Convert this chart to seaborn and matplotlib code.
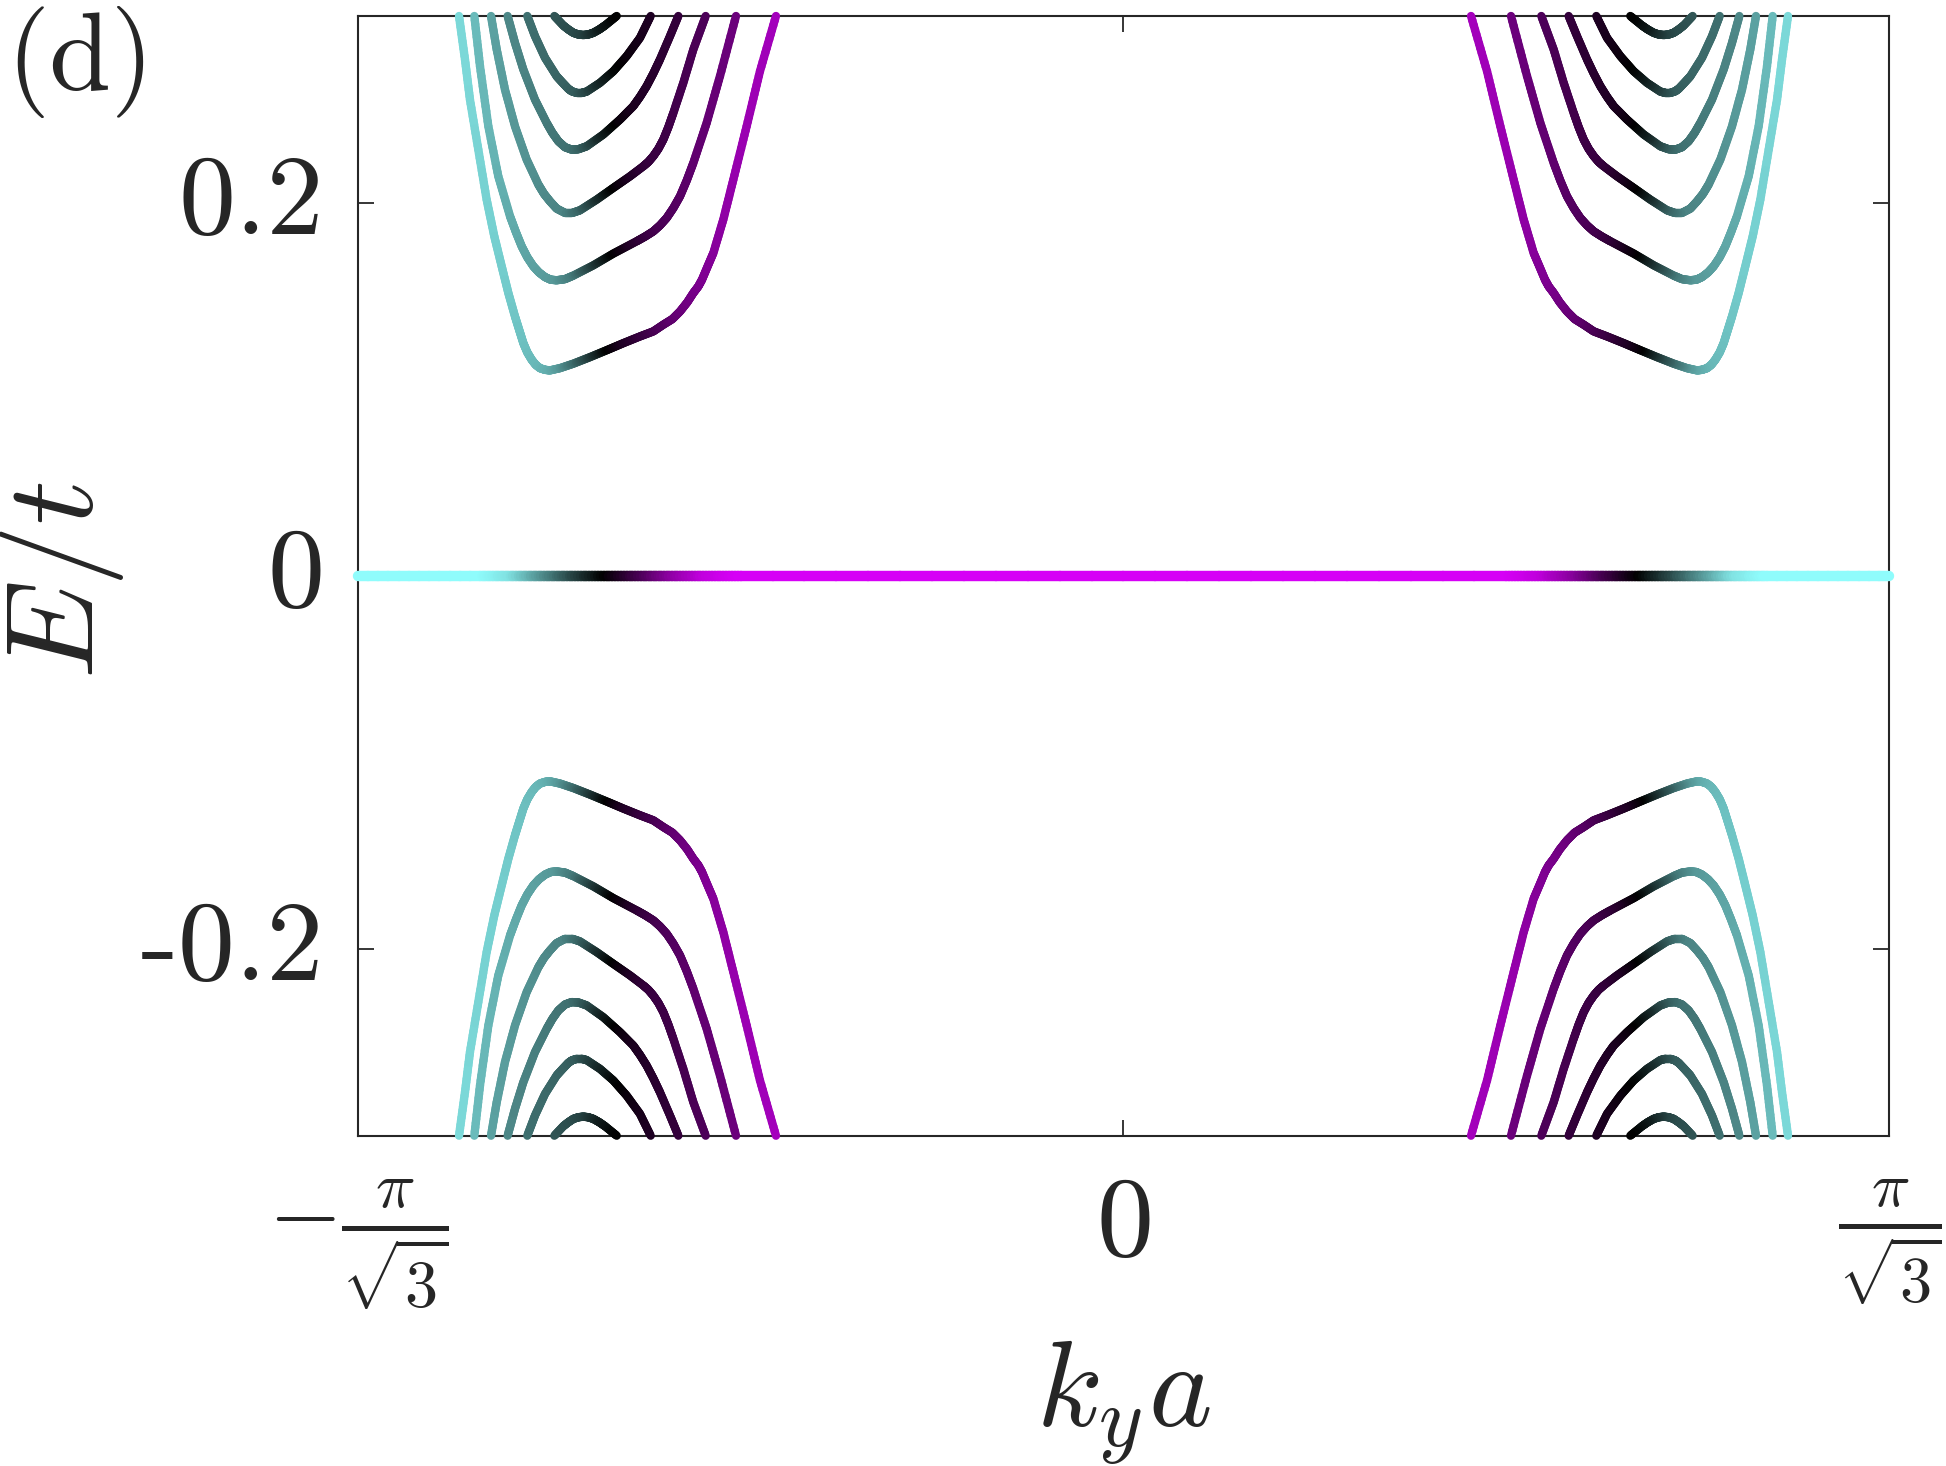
import numpy as np
import matplotlib
matplotlib.use("Agg")
import matplotlib.pyplot as plt
from matplotlib.collections import LineCollection
from matplotlib.transforms import ScaledTranslation
import seaborn as sns

K = np.pi / np.sqrt(3)

# Upper-left bands (k in units of pi/sqrt(3), E in units of t, colour weight 0=cyan ... 1=magenta)
b1_k = [-0.8677, -0.8599, -0.8534, -0.8425, -0.8316, -0.8216, -0.8120, -0.8033, -0.7946, -0.7889,
        -0.7837, -0.7785, -0.7728, -0.7676, -0.7620, -0.7554, -0.7489, -0.7358, -0.7184, -0.6967,
        -0.6732, -0.6531, -0.6314, -0.6140, -0.6009, -0.5891, -0.5791, -0.5696, -0.5617, -0.5552,
        -0.5504, -0.5430, -0.5356, -0.5226, -0.5095, -0.4921, -0.4747, -0.4538]
b1_E = [0.300, 0.2767, 0.2552, 0.2284, 0.2016, 0.1819, 0.1659, 0.1516, 0.1390, 0.1315,
        0.1247, 0.1197, 0.1158, 0.1131, 0.1113, 0.1104, 0.1101, 0.1113, 0.1137, 0.1172,
        0.1212, 0.1247, 0.1283, 0.1310, 0.1346, 0.1376, 0.1417, 0.1466, 0.1516, 0.1551,
        0.1587, 0.1659, 0.1730, 0.1909, 0.2123, 0.2409, 0.2704, 0.300]
b1_w = [0.07, 0.072, 0.075, 0.08, 0.085, 0.09, 0.095, 0.10, 0.11, 0.115,
        0.12, 0.125, 0.13, 0.135, 0.14, 0.15, 0.16, 0.20, 0.28, 0.38,
        0.50, 0.57, 0.62, 0.66, 0.69, 0.72, 0.74, 0.76, 0.77, 0.78,
        0.79, 0.80, 0.81, 0.83, 0.845, 0.86, 0.87, 0.88]

b2_k = [-0.8477, -0.8403, -0.8294, -0.8164, -0.8011, -0.7933, -0.7859, -0.7785, -0.7707, -0.7633,
        -0.7554, -0.7480, -0.7402, -0.7293, -0.7184, -0.6923, -0.6662, -0.6357, -0.6248, -0.6140,
        -0.6053, -0.5965, -0.5878, -0.5791, -0.5704, -0.5617, -0.5443, -0.5269, -0.5060]
b2_E = [0.300, 0.2731, 0.2409, 0.2141, 0.1927, 0.1841, 0.1766, 0.1707, 0.1659, 0.1626,
        0.1601, 0.1587, 0.1584, 0.1590, 0.1609, 0.1664, 0.1727, 0.1793, 0.1818, 0.1846,
        0.1878, 0.1918, 0.1971, 0.2034, 0.2118, 0.2213, 0.2427, 0.2678, 0.300]
b2_w = [0.13, 0.135, 0.14, 0.15, 0.16, 0.165, 0.17, 0.175, 0.18, 0.185,
        0.19, 0.195, 0.20, 0.23, 0.26, 0.38, 0.50, 0.60, 0.625, 0.65,
        0.665, 0.68, 0.69, 0.70, 0.71, 0.72, 0.73, 0.74, 0.75]

b3_k = [-0.8259, -0.8185, -0.8077, -0.7946, -0.7794, -0.7641, -0.7567, -0.7489, -0.7402, -0.7293,
        -0.7197, -0.7097, -0.6880, -0.6662, -0.6444, -0.6270, -0.6205, -0.6140, -0.6074, -0.6009,
        -0.5944, -0.5878, -0.5748, -0.5617, -0.5456]
b3_E = [0.300, 0.2821, 0.2606, 0.2409, 0.2231, 0.2097, 0.2047, 0.2007, 0.1968, 0.1945,
        0.1945, 0.1959, 0.2016, 0.2079, 0.2141, 0.2195, 0.2218, 0.2249, 0.2288, 0.2338,
        0.2404, 0.2481, 0.2642, 0.2821, 0.300]
b3_w = [0.18, 0.185, 0.19, 0.20, 0.21, 0.22, 0.225, 0.23, 0.235, 0.24,
        0.27, 0.30, 0.40, 0.50, 0.57, 0.61, 0.62, 0.63, 0.635, 0.64,
        0.645, 0.65, 0.66, 0.67, 0.68]

b4_k = [-0.8042, -0.7946, -0.7837, -0.7685, -0.7532, -0.7458, -0.7380, -0.7293, -0.7206, -0.7119,
        -0.7010, -0.6793, -0.6575, -0.6401, -0.6314, -0.6227, -0.6140, -0.6053, -0.5922, -0.5813]
b4_E = [0.300, 0.2856, 0.2713, 0.2552, 0.2427, 0.2374, 0.2329, 0.2297, 0.2284, 0.2286,
        0.2302, 0.2365, 0.2445, 0.2517, 0.2567, 0.2624, 0.2692, 0.2767, 0.2892, 0.300]
b4_w = [0.23, 0.235, 0.24, 0.25, 0.26, 0.265, 0.27, 0.275, 0.28, 0.30,
        0.34, 0.44, 0.52, 0.56, 0.57, 0.58, 0.59, 0.60, 0.61, 0.62]

b5_k = [-0.7785, -0.7685, -0.7554, -0.7402, -0.7324, -0.7250, -0.7206, -0.7141, -0.7075, -0.7010,
        -0.6836, -0.6662, -0.6488, -0.6314, -0.6174]
b5_E = [0.300, 0.2892, 0.2776, 0.2677, 0.2642, 0.2610, 0.2597, 0.2588, 0.2588, 0.2595,
        0.2642, 0.2704, 0.2785, 0.2883, 0.300]
b5_w = [0.28, 0.285, 0.29, 0.30, 0.305, 0.31, 0.315, 0.32, 0.34, 0.36,
        0.42, 0.48, 0.52, 0.55, 0.57]

b6_k = [-0.7432, -0.7315, -0.7250, -0.7184, -0.7119, -0.7054, -0.6989, -0.6923, -0.6845, -0.6771, -0.6618]
b6_E = [0.300, 0.2949, 0.2928, 0.2910, 0.2901, 0.2898, 0.2901, 0.2910, 0.2928, 0.2949, 0.300]
b6_w = [0.33, 0.34, 0.345, 0.35, 0.36, 0.37, 0.39, 0.41, 0.44, 0.46, 0.50]

# Zero-energy flat band (left half; right half is its mirror image)
zero_k = [-1.0, -0.84, -0.80, -0.76, -0.72, -0.675, -0.63, -0.59, -0.545, -0.50, 0.0]
zero_w = [0.0, 0.0, 0.05, 0.20, 0.35, 0.50, 0.66, 0.82, 0.95, 1.0, 1.0]

xtick_vals = [-1, 0, 1]
xtick_labels = [r'$-\frac{\pi}{\sqrt{3}}$', r'$0$', r'$\frac{\pi}{\sqrt{3}}$']
ytick_vals = [-0.2, 0, 0.2]
ytick_labels = ['-0.2', '0', '0.2']

sns.set_theme(style="ticks")
plt.rcParams['font.family'] = ['cmr10', 'DejaVu Serif']
plt.rcParams['mathtext.fontset'] = 'cm'
plt.rcParams['axes.unicode_minus'] = False
plt.rcParams['axes.formatter.use_mathtext'] = True

cmap = sns.blend_palette(['#8ffcfc', '#000000', '#d600f6'], as_cmap=True)

fig = plt.figure(figsize=(19.46, 14.66), dpi=100)
ax = fig.add_axes([357.7 / 1946, 1 - 1135.7 / 1466, (1889.3 - 357.7) / 1946, (1135.7 - 16) / 1466])


def draw_band(ax, k, E, w, lw, nsub=12):
    k = np.asarray(k, float) * K
    E = np.asarray(E, float)
    w = np.asarray(w, float)
    segs, cols = [], []
    t = np.linspace(0, 1, nsub + 1)
    for i in range(len(k) - 1):
        xs = k[i] + (k[i + 1] - k[i]) * t
        ys = E[i] + (E[i + 1] - E[i]) * t
        for j in range(nsub):
            segs.append([(xs[j], ys[j]), (xs[j + 1], ys[j + 1])])
            cols.append(w[i] + (w[i + 1] - w[i]) * (j + 0.5) / nsub)
    lc = LineCollection(segs, colors=cmap(np.clip(cols, 0, 1)), linewidths=lw,
                        capstyle='round', joinstyle='round', clip_on=False, zorder=3)
    ax.add_collection(lc)


bands = [(b1_k, b1_E, b1_w), (b2_k, b2_E, b2_w), (b3_k, b3_E, b3_w),
         (b4_k, b4_E, b4_w), (b5_k, b5_E, b5_w), (b6_k, b6_E, b6_w)]
for bk, bE, bw in bands:
    for sk in (1, -1):
        for sE in (1, -1):
            draw_band(ax, [sk * v for v in bk], [sE * v for v in bE], bw, lw=6.0)

zk_full = list(zero_k) + [-v for v in zero_k[::-1][1:]]
zw_full = list(zero_w) + list(zero_w[::-1][1:])
draw_band(ax, zk_full, [0.0] * len(zk_full), zw_full, lw=7.5)

ax.set_xlim(-K, K)
ax.set_ylim(-0.3, 0.3)
ax.set_xticks([v * K for v in xtick_vals])
ax.set_xticklabels(xtick_labels)
ax.set_yticks(ytick_vals)
ax.set_yticklabels(ytick_labels)
ax.minorticks_off()
ax.tick_params(axis='both', which='major', direction='in', length=11.5, width=1.3,
               top=True, right=True, colors='#262626', labelsize=82)
ax.tick_params(axis='x', pad=30)
ax.tick_params(axis='y', pad=24)
xl = ax.get_xticklabels()
xl[0].set_fontsize(68)
xl[2].set_fontsize(66)
shift = ScaledTranslation(0, 8 / 100, fig.dpi_scale_trans)
for lab in ax.get_yticklabels():
    lab.set_transform(lab.get_transform() + shift)
for sp in ax.spines.values():
    sp.set_linewidth(1.5)
    sp.set_color('#262626')

fig.text(62 / 1946, 1 - 580 / 1466, r'$E/t$', rotation=90, ha='center', va='center',
         fontsize=90, color='#262626')
fig.text(1123 / 1946, 1 - 1427 / 1466, r'$k_y a$', ha='center', va='baseline',
         fontsize=87, color='#262626')
fig.text(6 / 1946, 1 - 6 / 1466, '(d)', ha='left', va='top', fontsize=80, color='#262626')

fig.savefig('out.png', dpi=100)
